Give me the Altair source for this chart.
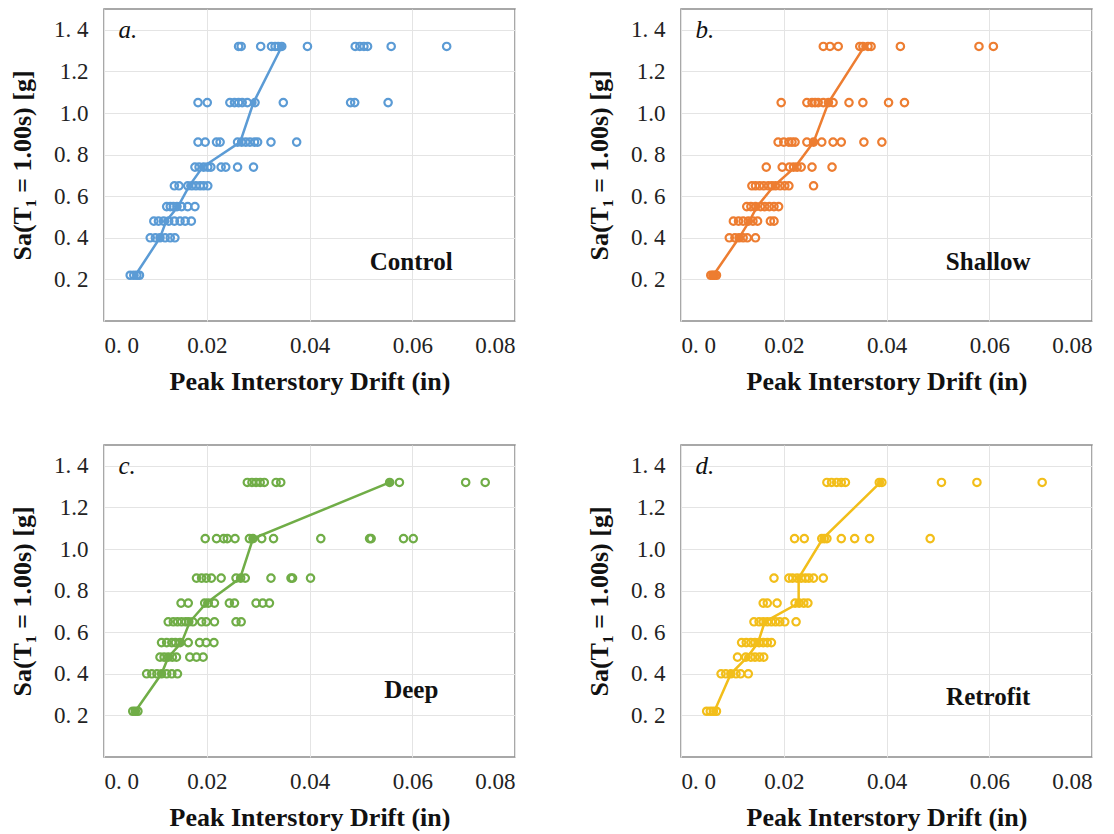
import altair as alt
import pandas as pd

# Spectral acceleration levels (IDA stripes)
SA_LEVELS = [0.22, 0.40, 0.48, 0.55, 0.65, 0.74, 0.86, 1.05, 1.32]

# Peak interstory drift per record, one list per Sa level
CONTROL = [
    [0.0051, 0.0058, 0.0064, 0.0069],
    [0.0090, 0.0100, 0.0109, 0.0119, 0.0129, 0.0138],
    [0.0097, 0.0106, 0.0116, 0.0126, 0.0137, 0.0148, 0.0158, 0.0170],
    [0.0122, 0.0129, 0.0135, 0.0142, 0.0151, 0.0163, 0.0177],
    [0.0137, 0.0146, 0.0163, 0.0171, 0.0179, 0.0187, 0.0194, 0.0202],
    [0.0177, 0.0185, 0.0194, 0.0202, 0.0208, 0.0228, 0.0237, 0.0260, 0.0291],
    [0.0183, 0.0197, 0.0219, 0.0226, 0.0260, 0.0268, 0.0276, 0.0284, 0.0293, 0.0299, 0.0325, 0.0375],
    [0.0183, 0.0201, 0.0245, 0.0254, 0.0262, 0.0269, 0.0279, 0.0294, 0.0349, 0.0480, 0.0488, 0.0553],
    [0.0262, 0.0267, 0.0305, 0.0326, 0.0333, 0.0339, 0.0346, 0.0396, 0.0489, 0.0498, 0.0506, 0.0513, 0.0559, 0.0667],
]
CONTROL_MEDIAN = [0.0061, 0.0109, 0.0121, 0.0144, 0.0166, 0.0192, 0.0265, 0.0291, 0.0346]

SHALLOW = [
    [0.0058, 0.0062, 0.0065, 0.0069],
    [0.0094, 0.0105, 0.0113, 0.0121, 0.0129, 0.0145],
    [0.0102, 0.0112, 0.0121, 0.0131, 0.0140, 0.0149, 0.0174, 0.0181],
    [0.0128, 0.0136, 0.0145, 0.0155, 0.0163, 0.0172, 0.0181, 0.0190],
    [0.0138, 0.0145, 0.0153, 0.0161, 0.0170, 0.0177, 0.0184, 0.0193, 0.0202, 0.0210, 0.0258],
    [0.0166, 0.0197, 0.0211, 0.0219, 0.0226, 0.0234, 0.0255, 0.0294],
    [0.0189, 0.0200, 0.0210, 0.0216, 0.0222, 0.0245, 0.0258, 0.0274, 0.0296, 0.0312, 0.0356, 0.0391],
    [0.0195, 0.0245, 0.0255, 0.0261, 0.0267, 0.0277, 0.0287, 0.0296, 0.0327, 0.0354, 0.0404, 0.0435],
    [0.0277, 0.0290, 0.0306, 0.0348, 0.0354, 0.0364, 0.0370, 0.0427, 0.0580, 0.0608],
]
SHALLOW_MEDIAN = [0.0063, 0.0113, 0.0133, 0.0148, 0.0181, 0.0222, 0.0258, 0.0287, 0.0357]

DEEP = [
    [0.0056, 0.0061, 0.0066],
    [0.0083, 0.0093, 0.0103, 0.0112, 0.0122, 0.0132, 0.0143],
    [0.0109, 0.0117, 0.0125, 0.0133, 0.0141, 0.0167, 0.0180, 0.0193],
    [0.0112, 0.0122, 0.0132, 0.0139, 0.0148, 0.0164, 0.0186, 0.0199, 0.0214],
    [0.0125, 0.0135, 0.0143, 0.0151, 0.0159, 0.0165, 0.0173, 0.0190, 0.0199, 0.0215, 0.0257, 0.0267],
    [0.0150, 0.0164, 0.0196, 0.0203, 0.0215, 0.0244, 0.0254, 0.0296, 0.0309, 0.0322],
    [0.0180, 0.0190, 0.0199, 0.0209, 0.0228, 0.0257, 0.0266, 0.0275, 0.0325, 0.0364, 0.0367, 0.0402],
    [0.0197, 0.0219, 0.0233, 0.0240, 0.0255, 0.0283, 0.0290, 0.0307, 0.0330, 0.0422, 0.0517, 0.0520, 0.0583, 0.0602],
    [0.0279, 0.0288, 0.0296, 0.0304, 0.0312, 0.0335, 0.0344, 0.0556, 0.0575, 0.0704, 0.0742],
]
DEEP_MEDIAN = [0.0061, 0.0112, 0.0125, 0.0151, 0.0167, 0.0199, 0.0265, 0.0290, 0.0556]

RETROFIT = [
    [0.0050, 0.0057, 0.0063, 0.0069],
    [0.0078, 0.0087, 0.0097, 0.0107, 0.0116, 0.0131],
    [0.0110, 0.0126, 0.0136, 0.0144, 0.0153, 0.0161],
    [0.0118, 0.0127, 0.0136, 0.0144, 0.0152, 0.0160, 0.0168, 0.0176],
    [0.0142, 0.0152, 0.0160, 0.0168, 0.0176, 0.0184, 0.0192, 0.0202, 0.0224],
    [0.0160, 0.0168, 0.0187, 0.0222, 0.0230, 0.0239, 0.0247],
    [0.0181, 0.0210, 0.0217, 0.0226, 0.0234, 0.0242, 0.0249, 0.0258, 0.0277],
    [0.0221, 0.0240, 0.0274, 0.0279, 0.0284, 0.0312, 0.0338, 0.0367, 0.0485],
    [0.0284, 0.0293, 0.0303, 0.0312, 0.0320, 0.0386, 0.0391, 0.0507, 0.0576, 0.0703],
]
RETROFIT_MEDIAN = [0.0065, 0.0097, 0.0129, 0.0150, 0.0163, 0.0229, 0.0229, 0.0276, 0.0388]

PANEL_LETTERS = ["a.", "b.", "c.", "d."]
PANEL_NAMES = ["Control", "Shallow", "Deep", "Retrofit"]
PANEL_COLORS = ["#5B9BD5", "#ED7D31", "#70AD47", "#F2BE1A"]
NAME_POS_Y = [0.285, 0.285, 0.32, 0.29]

X_TICKS = [0.0, 0.02, 0.04, 0.06, 0.08]
Y_TICKS = [0.2, 0.4, 0.6, 0.8, 1.0, 1.2, 1.4]

FONT = "'Liberation Serif', 'Times New Roman', 'DejaVu Serif', serif"
W, H = 411, 312


def panel(letter, name, color, runs, median, name_y):
    pts = pd.DataFrame(
        [{"drift": d, "sa": s} for s, row in zip(SA_LEVELS, runs) for d in row]
    )
    med = pd.DataFrame({"drift": median, "sa": SA_LEVELS})
    x = alt.X(
        "drift:Q",
        scale=alt.Scale(domain=[0, 0.08], nice=False, zero=False),
        axis=alt.Axis(
            values=X_TICKS,
            labelExpr="datum.value == 0 ? '0. 0' : format(datum.value, '.2f')",
            title="Peak Interstory Drift (in)",
            labelPadding=13,
            titlePadding=11,
        ),
    )
    y = alt.Y(
        "sa:Q",
        scale=alt.Scale(domain=[0, 1.5], nice=False),
        axis=alt.Axis(
            values=Y_TICKS,
            labelExpr="(abs(datum.value - 1.2) < 0.01 || abs(datum.value - 1.0) < 0.01) ? format(datum.value, '.1f') : replace(format(datum.value, '.1f'), '.', '. ')",
            title="Sa(T₁ = 1.00s) [g]",
            labelPadding=16,
            titlePadding=18,
        ),
    )
    line = alt.Chart(med).mark_line(color=color, strokeWidth=2.5).encode(x=x, y=y)
    scatter = (
        alt.Chart(pts)
        .mark_point(shape="circle", filled=False, size=55, strokeWidth=2.2, color=color, opacity=1)
        .encode(x=x, y=y)
    )
    medpts = alt.Chart(med).mark_circle(color=color, size=40, opacity=1).encode(x=x, y=y)
    lab = pd.DataFrame({"drift": [0.0028], "sa": [1.40], "t": [letter]})
    letter_mark = (
        alt.Chart(lab)
        .mark_text(font=FONT, fontSize=25, fontStyle="italic", align="left", baseline="middle", color="#111")
        .encode(x=x, y=y, text="t:N")
    )
    nm = pd.DataFrame({"drift": [0.0598], "sa": [name_y], "t": [name]})
    name_mark = (
        alt.Chart(nm)
        .mark_text(font=FONT, fontSize=25, fontWeight="bold", align="center", baseline="middle", color="#111")
        .encode(x=x, y=y, text="t:N")
    )
    return alt.layer(line, scatter, medpts, letter_mark, name_mark).properties(width=W, height=H)


runs_all = [CONTROL, SHALLOW, DEEP, RETROFIT]
medians_all = [CONTROL_MEDIAN, SHALLOW_MEDIAN, DEEP_MEDIAN, RETROFIT_MEDIAN]
panels = [
    panel(PANEL_LETTERS[i], PANEL_NAMES[i], PANEL_COLORS[i], runs_all[i], medians_all[i], NAME_POS_Y[i])
    for i in range(4)
]

chart = (
    alt.concat(*panels, columns=2, spacing={"row": 124, "column": 166}, bounds="flush")
    .properties(padding=0)
    .configure_view(stroke="#8c8c8c", strokeWidth=1.5)
    .configure_axis(
        grid=True,
        gridColor="#e4e4e4",
        gridWidth=1,
        domain=False,
        ticks=False,
        labelFont=FONT,
        labelFontSize=23,
        labelColor="#222222",
        titleFont=FONT,
        titleFontSize=26,
        titleFontWeight="bold",
        titleColor="#111111",
    )
    .configure_axisX(labelBaseline="top")
)

chart.save("out.html", embed_options={"renderer": "svg", "actions": False})
